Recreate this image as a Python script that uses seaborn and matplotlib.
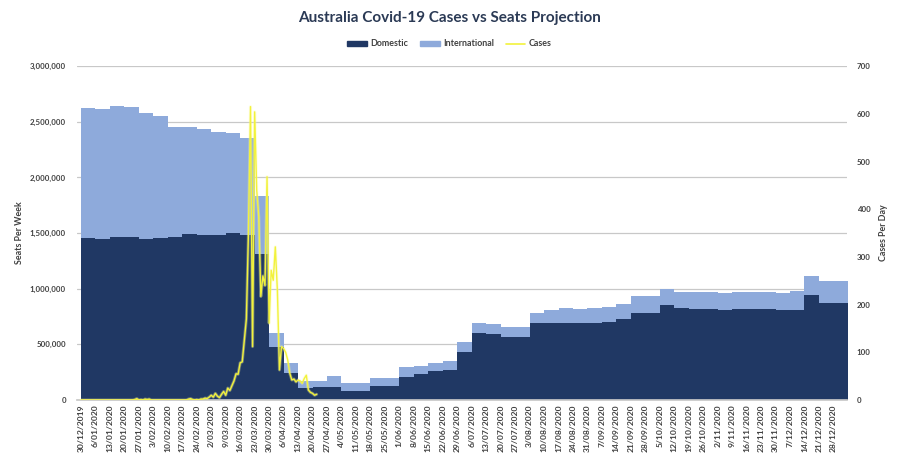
import matplotlib
matplotlib.use("Agg")
import matplotlib.pyplot as plt
from matplotlib.patches import Patch
from matplotlib.lines import Line2D
from matplotlib.ticker import FuncFormatter, MultipleLocator
import pandas as pd
import seaborn as sns

# weekly seat projection (thousands of seats), weeks starting 30/12/2019
week_start = pd.date_range("2019-12-30", periods=53, freq="7D")
domestic_k = [1452, 1443, 1461, 1461, 1443, 1455, 1461, 1491, 1485, 1479, 1497, 1485,
              1308, 480, 240, 105, 120, 120, 80, 80, 125, 125, 210, 233, 260, 270,
              434, 605, 593, 569, 566, 695, 695, 695, 689, 695, 703, 725, 784, 779,
              850, 829, 820, 814, 808, 817, 817, 814, 808, 808, 946, 868, 868]
international_k = [1168, 1168, 1183, 1174, 1138, 1096, 994, 964, 946, 931, 898, 865,
                   524, 125, 90, 65, 50, 95, 75, 75, 75, 75, 83, 72, 75, 77,
                   87, 84, 87, 84, 87, 84, 113, 134, 133, 134, 129, 137, 150, 152,
                   144, 144, 147, 153, 150, 153, 153, 156, 157, 168, 171, 204, 204]

# daily new cases from 30/12/2019
case_start = "2019-12-30"
cases = ([0] * 26
         + [1, 3, 0, 1, 0, 2, 1, 2]
         + [0] * 18
         + [2, 3, 1, 0, 1, 0, 2]
         + [2, 4, 3, 6, 10, 6, 14, 8, 5, 12, 18, 10, 25, 20, 30, 40, 55, 54, 78, 80,
            125, 170, 350, 615, 112, 604]
         + [440, 384, 217, 260, 240, 468, 161, 272, 251, 321, 230, 63, 112, 108, 100,
            84, 56, 42, 44, 38, 42, 40, 35, 45, 52, 21, 16, 14, 10, 12])
case_dates = pd.date_range(case_start, periods=len(cases), freq="D")

DOM = "#203864"
INTL = "#8eaadb"
CASE = "#f2f23c"
TXT = "#404040"

sns.set_theme(style="white")
plt.rcParams["font.family"] = ["Lato", "DejaVu Sans"]

fig, ax = plt.subplots(figsize=(8.99, 4.59), dpi=100)
fig.subplots_adjust(left=0.0857, right=0.942, bottom=0.1285, top=0.856)

# stacked step areas
edges = list(week_start) + [week_start[-1] + pd.Timedelta(days=7)]
dom = [v * 1000 for v in domestic_k]
tot = [(d + i) * 1000 for d, i in zip(domestic_k, international_k)]
dom_e = dom + [dom[-1]]
tot_e = tot + [tot[-1]]
ax.fill_between(edges, 0, dom_e, step="post", color=DOM, lw=0, zorder=2)
ax.fill_between(edges, dom_e, tot_e, step="post", color=INTL, lw=0, zorder=2)

ax.set_ylim(0, 3_000_000)
ax.yaxis.set_major_locator(MultipleLocator(500_000))
ax.yaxis.set_major_formatter(FuncFormatter(lambda v, p: f"{int(v):,}"))
ax.grid(True, axis="y", color="#c8c8c8", lw=0.9, zorder=0)
ax.set_axisbelow(True)
ax.set_xlim(pd.Timestamp("2019-12-28 02:00"), pd.Timestamp("2021-01-03 12:00"))
ax.set_xticks(week_start)
ax.set_xticklabels([f"{d.day}/{d.month:02d}/{d.year}" for d in week_start],
                   rotation=90, fontsize=6.1, fontweight="bold", color=TXT)
ax.tick_params(axis="x", length=0, pad=3)
ax.tick_params(axis="y", length=0, pad=8, labelsize=5.7, labelcolor=TXT)
for t in ax.get_yticklabels():
    t.set_fontweight("bold")
ax.set_ylabel("Seats Per Week", fontsize=6.4, fontweight="bold", color=TXT, labelpad=4)
for s in ["top", "left", "right"]:
    ax.spines[s].set_visible(False)
ax.spines["bottom"].set_color("#c8c8c8")

# cases on secondary axis (faint halo under the line)
ax2 = ax.twinx()
sns.lineplot(x=case_dates, y=cases, ax=ax2, color="#fbfb9a", lw=2.2, alpha=0.35, zorder=3)
sns.lineplot(x=case_dates, y=cases, ax=ax2, color=CASE, lw=1.0, zorder=4)
ax2.set_ylim(0, 700)
ax2.yaxis.set_major_locator(MultipleLocator(100))
ax2.tick_params(axis="y", length=0, pad=7, labelsize=5.7, labelcolor=TXT)
for t in ax2.get_yticklabels():
    t.set_fontweight("bold")
ax2.set_ylabel("Cases Per Day", fontsize=6.4, fontweight="bold", color=TXT, labelpad=6)
for s in ax2.spines.values():
    s.set_visible(False)

fig.text(0.5, 1 - 18 / 459, "Australia Covid-19 Cases vs Seats Projection",
         ha="center", va="center", fontsize=11, fontweight="bold", color="#2b3a55")

handles = [Patch(color=DOM, label="Domestic"),
           Patch(color=INTL, label="International"),
           Line2D([], [], color=CASE, lw=1.2, label="Cases")]
fig.legend(handles=handles, loc="center", bbox_to_anchor=(0.5, 1 - 44 / 459), ncol=3,
           frameon=False, prop={"size": 6.4, "weight": "bold"}, handlelength=2.2,
           handleheight=0.5, columnspacing=1.3, handletextpad=0.4, labelcolor=TXT)

fig.savefig("out.png", dpi=100)
